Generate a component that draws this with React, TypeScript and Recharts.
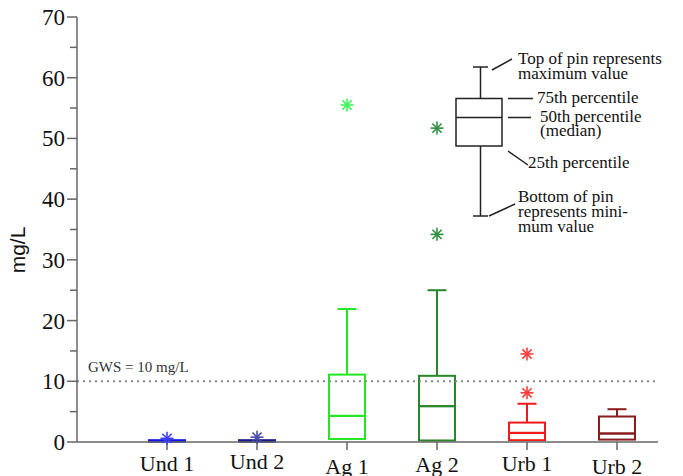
import { Bar, ComposedChart, ReferenceLine, Scatter, XAxis, YAxis } from "recharts";

// nitrate concentration, mg/L, per sampling group
const groups = ["Und 1", "Und 2", "Ag 1", "Ag 2", "Urb 1", "Urb 2"];
const minValues = [0, 0, 0.4, 0.2, 0.2, 0.3];
const p25 = [0.05, 0.05, 0.5, 0.25, 0.3, 0.4];
const p50 = [0.15, 0.15, 4.3, 5.9, 1.5, 1.4];
const p75 = [0.3, 0.3, 11.1, 10.9, 3.2, 4.2];
const maxValues = [0.35, 0.35, 21.9, 25.0, 6.3, 5.4];
// outliers (asterisks), up to two per group
const outlierA = [0.6, 0.8, 55.5, 51.7, 14.5, null];
const outlierB = [null, null, null, 34.2, 8.1, null];

const yTicks = [0, 5, 10, 15, 20, 25, 30, 35, 40, 45, 50, 55, 60, 65, 70];
const gwsLimit = 10;

const boxColors = ["#1414e6", "#1a1a8a", "#22e622", "#2a862a", "#f01a1a", "#8b1c1c"];
const starColors = ["#3c3cff", "#4b4ba8", "#3ef05a", "#2f8f3f", "#ff3b3b", "#8b1c1c"];
const labelDrop = [0, -2, 3, 1, 0, 3];

const SERIF = "'Liberation Serif', 'Times New Roman', serif";
const AXIS = "#666";

const data = groups.map((name, i) => ({
  name,
  base: minValues[i],
  lowWhisker: p25[i] - minValues[i],
  lowBox: p50[i] - p25[i],
  highBox: p75[i] - p50[i],
  highWhisker: maxValues[i] - p75[i],
  outA: outlierA[i],
  outB: outlierB[i],
}));

function groupIndex(props: any) {
  const n = props.payload?.name ?? props.name;
  const i = groups.indexOf(n);
  return i >= 0 ? i : props.index ?? 0;
}

function BoxPart(props: any) {
  const { x, y, width, height } = props;
  if (![x, y, width, height].every((v) => typeof v === "number" && isFinite(v))) return <g />;
  const c = boxColors[groupIndex(props)];
  return <rect x={x} y={y} width={width} height={Math.max(height, 0.5)} fill="none" stroke={c} strokeWidth={2} />;
}

function Whisker(props: any, withCap: boolean) {
  const { x, y, width, height } = props;
  if (![x, y, width, height].every((v) => typeof v === "number" && isFinite(v))) return <g />;
  if (height <= 0.5) return <g />;
  const c = boxColors[groupIndex(props)];
  const cx = x + width / 2;
  return (
    <g>
      <line x1={cx} x2={cx} y1={y} y2={y + height} stroke={c} strokeWidth={2} />
      {withCap && <line x1={cx - 9.5} x2={cx + 9.5} y1={y} y2={y} stroke={c} strokeWidth={2} />}
    </g>
  );
}

function Star(props: any, key: "outA" | "outB") {
  const { cx, cy, payload } = props;
  if (payload == null || payload[key] == null) return <g />;
  if (typeof cx !== "number" || typeof cy !== "number" || !isFinite(cx) || !isFinite(cy)) return <g />;
  const c = starColors[groupIndex(props)];
  const r = 6.5;
  const d = r * Math.SQRT1_2;
  return (
    <g stroke={c} strokeWidth={1.6}>
      <line x1={cx - r} x2={cx + r} y1={cy} y2={cy} />
      <line x1={cx} x2={cx} y1={cy - r} y2={cy + r} />
      <line x1={cx - d} x2={cx + d} y1={cy - d} y2={cy + d} />
      <line x1={cx - d} x2={cx + d} y1={cy + d} y2={cy - d} />
    </g>
  );
}

function LevelTick(props: any) {
  const { x, y, payload } = props;
  const major = payload.value % 10 === 0;
  const axisX = x + 12;
  return (
    <g>
      <line x1={axisX - (major ? 10 : 7)} x2={axisX} y1={y} y2={y} stroke={AXIS} strokeWidth={1.5} />
      {major && (
        <text x={x} y={y} dy={8} textAnchor="end" fontFamily={SERIF} fontSize={23} fill="#111">
          {payload.value}
        </text>
      )}
    </g>
  );
}

function GroupTick(props: any) {
  const { x, y, payload, index } = props;
  return (
    <text x={x} y={y + 19 + (labelDrop[index] ?? 0)} textAnchor="middle" fontFamily={SERIF} fontSize={22} fill="#111">
      {payload.value}
    </text>
  );
}

function KeyBox() {
  const ink = "#222";
  const t = { fontFamily: SERIF, fontSize: 17, fill: "#111" };
  return (
    <svg width={683} height={476} style={{ position: "absolute", left: 0, top: 0, pointerEvents: "none" }}>
      <g stroke={ink} strokeWidth={1.5} fill="none">
        <line x1={473} x2={488} y1={67} y2={67} />
        <line x1={480.5} x2={480.5} y1={67} y2={98.5} />
        <rect x={456} y={98.5} width={46} height={47.5} />
        <line x1={456} x2={502} y1={117.5} y2={117.5} />
        <line x1={480.5} x2={480.5} y1={146} y2={216} />
        <line x1={473} x2={488} y1={216} y2={216} />
        <line x1={492} x2={512} y1={70} y2={59} />
        <line x1={508} x2={533} y1={98.5} y2={98.5} />
        <line x1={508} x2={531} y1={117.5} y2={117.5} />
        <line x1={508} x2={528} y1={151} y2={165} />
        <line x1={489} x2={515} y1={216} y2={204} />
      </g>
      <text {...t} x={518} y={64}>Top of pin represents</text>
      <text {...t} x={518} y={79}>maximum value</text>
      <text {...t} x={537} y={103}>75th percentile</text>
      <text {...t} x={540} y={122}>50th percentile</text>
      <text {...t} x={540} y={136}>(median)</text>
      <text {...t} x={528} y={168}>25th percentile</text>
      <text {...t} x={518} y={202}>Bottom of pin</text>
      <text {...t} x={518} y={217}>represents mini-</text>
      <text {...t} x={518} y={232}>mum value</text>
    </svg>
  );
}

export default function App() {
  return (
    <div style={{ position: "absolute", left: 0, top: 0, width: 683, height: 476, background: "#fff" }}>
      <ComposedChart width={683} height={476} data={data} margin={{ top: 17, right: 25, bottom: 4, left: 17 }}>
        <XAxis
          dataKey="name"
          interval={0}
          padding={{ left: 45, right: -4 }}
          tickSize={8}
          axisLine={{ stroke: AXIS, strokeWidth: 1.5 }}
          tickLine={{ stroke: AXIS, strokeWidth: 1.5 }}
          tick={<GroupTick />}
          height={30}
        />
        <YAxis
          type="number"
          domain={[0, 70]}
          ticks={yTicks}
          interval={0}
          width={60}
          tickSize={10}
          tickMargin={2}
          tickLine={false}
          axisLine={{ stroke: AXIS, strokeWidth: 1.5 }}
          tick={<LevelTick />}
          label={{
            content: () => (
              <text
                x={25}
                y={250}
                transform="rotate(-90, 25, 250)"
                textAnchor="middle"
                fontFamily="'Liberation Sans', Arial, sans-serif"
                fontSize={21}
                fill="#111"
              >
                mg/L
              </text>
            ),
          }}
        />
        <ReferenceLine
          y={gwsLimit}
          stroke="#888"
          strokeWidth={2}
          strokeDasharray="2 4"
          label={{
            content: (p: any) => (
              <text x={(p.viewBox?.x ?? 77) + 11} y={(p.viewBox?.y ?? 381) - 9} fontFamily={SERIF} fontSize={15} fill="#333">
                GWS = 10 mg/L
              </text>
            ),
          }}
        />
        <Bar dataKey="base" stackId="box" barSize={36} fill="none" shape={() => <g />} isAnimationActive={false} />
        <Bar dataKey="lowWhisker" stackId="box" barSize={36} shape={(p: any) => Whisker(p, false)} isAnimationActive={false} />
        <Bar dataKey="lowBox" stackId="box" barSize={36} shape={<BoxPart />} isAnimationActive={false} />
        <Bar dataKey="highBox" stackId="box" barSize={36} shape={<BoxPart />} isAnimationActive={false} />
        <Bar dataKey="highWhisker" stackId="box" barSize={36} shape={(p: any) => Whisker(p, true)} isAnimationActive={false} />
        <Scatter dataKey="outA" shape={(p: any) => Star(p, "outA")} isAnimationActive={false} />
        <Scatter dataKey="outB" shape={(p: any) => Star(p, "outB")} isAnimationActive={false} />
      </ComposedChart>
      <KeyBox />
    </div>
  );
}
